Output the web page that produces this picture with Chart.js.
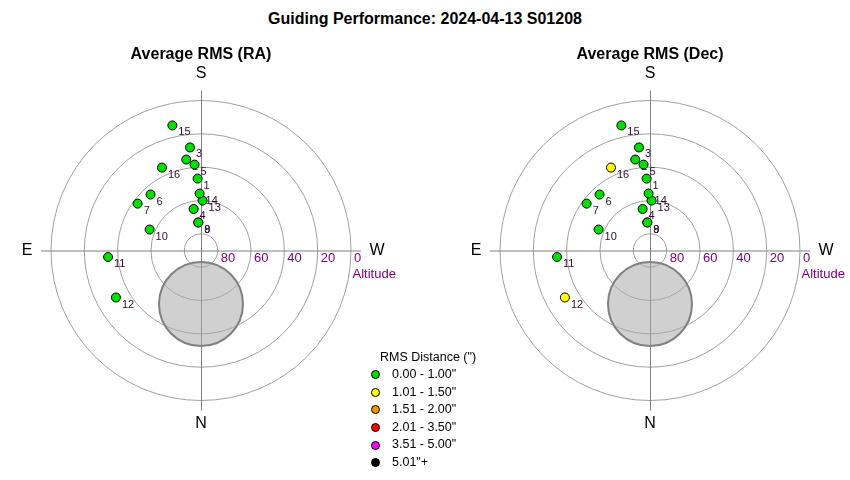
<!DOCTYPE html>
<html>
<head>
<meta charset="utf-8">
<script src="https://cdn.jsdelivr.net/npm/chart.js@4.4.1/dist/chart.umd.min.js"></script>
<style>
  html, body { margin: 0; padding: 0; background: #fff; }
  body { width: 850px; height: 480px; position: relative; overflow: hidden;
         font-family: Arial, "Liberation Sans", sans-serif; }
  canvas { position: absolute; top: 0; }
  #title { position: absolute; left: 0; top: 9px; width: 850px; text-align: center;
           font-weight: bold; font-size: 16px; line-height: 20px; color: #000; }
  #legend { position: absolute; left: 371px; top: 348px; font-size: 12.5px; color: #000; z-index: 2; }
  #legend .head { line-height: 18px; padding-left: 9px; }
  #legend .item { line-height: 17.6px; height: 17.6px; position: relative; padding-left: 21px; }
  #legend .dot { position: absolute; left: 0; top: 4.3px; width: 7px; height: 7px;
                 border: 1px solid #000; border-radius: 50%; }
</style>
</head>
<body>
<div id="title">Guiding Performance: 2024-04-13 S01208</div>
<canvas id="ra" width="425" height="480" style="left:0"></canvas>
<canvas id="dec" width="425" height="480" style="left:425px"></canvas>
<div id="legend"></div>
<script>
// sessions, position on the sky (degrees)
const sessions = [1, 2, 3, 4, 5, 6, 7, 8, 9, 10, 11, 12, 13, 14, 15, 16];
const azimuth = [177.3, 170.8, 173.9, 169.9, 175.7, 138.0, 126.5, 174.5, 174.5, 112.2, 86.0, 61.1, 181.8, 178.6, 167.1, 154.8];
const altitude = [46.8, 34.7, 27.8, 64.7, 38.3, 44.8, 42.7, 73.1, 73.1, 56.7, 34.1, 31.7, 60.0, 55.8, 13.0, 35.0];

// average RMS per session (arcsec)
const raRms = [0.62, 0.71, 0.58, 0.66, 0.69, 0.74, 0.81, 0.55, 0.57, 0.77, 0.88, 0.93, 0.63, 0.60, 0.84, 0.79];
const decRms = [0.71, 0.64, 0.83, 0.59, 0.76, 0.68, 0.87, 0.52, 0.61, 0.85, 0.92, 1.18, 0.66, 0.73, 0.95, 1.07];

// RMS bins
const binUpper = [1.00, 1.50, 2.00, 3.50, 5.00, Infinity];
const binLabels = ['0.00 - 1.00"', '1.01 - 1.50"', '1.51 - 2.00"', '2.01 - 3.50"', '3.51 - 5.00"', '5.01"+'];
const binColors = ['#00e000', '#ffff00', '#ee9900', '#ff0000', '#ff00ff', '#000000'];

// altitude rings and the polar region
const ringAltitudes = [80, 60, 40, 20, 0];
const poleAz = 0;
const poleAlt = 57.9;
const poleRadius = 25.2;

const FONT = 'Arial, "Liberation Sans", sans-serif';
Chart.defaults.font.family = FONT;

const toXY = (az, alt) => {
  const zd = 90 - alt;
  const a = az * Math.PI / 180;
  return { x: -Math.sin(a) * zd, y: -Math.cos(a) * zd };
};

const binOf = (v) => binUpper.findIndex((u) => v <= u);

const polarGrid = {
  id: 'polarGrid',
  beforeDatasetsDraw(chart) {
    const { ctx, scales: { x, y } } = chart;
    const cx = x.getPixelForValue(0);
    const cy = y.getPixelForValue(0);
    const px = (v) => Math.abs(x.getPixelForValue(v) - cx);
    ctx.save();

    // rings
    ctx.strokeStyle = '#a0a0a0';
    ctx.lineWidth = 1;
    ringAltitudes.forEach((alt) => {
      ctx.beginPath();
      ctx.arc(cx, cy, px(90 - alt), 0, Math.PI * 2);
      ctx.stroke();
    });

    // cross axes
    const reach = px(96);
    ctx.strokeStyle = '#808080';
    ctx.beginPath();
    ctx.moveTo(cx - reach, cy + 0.5);
    ctx.lineTo(cx + reach, cy + 0.5);
    ctx.moveTo(cx + 0.5, cy - reach);
    ctx.lineTo(cx + 0.5, cy + reach);
    ctx.stroke();

    // ring labels
    ctx.fillStyle = '#800080';
    ctx.font = '13px ' + FONT;
    ctx.textAlign = 'left';
    ctx.textBaseline = 'middle';
    ringAltitudes.forEach((alt) => {
      ctx.fillText(String(alt), cx + px(90 - alt) + 3, cy + 8);
    });
    ctx.fillText('Altitude', cx + 151.5, cy + 24);

    // compass
    ctx.fillStyle = '#000';
    ctx.font = '16px ' + FONT;
    ctx.textAlign = 'center';
    ctx.fillText('S', cx, cy - 176.5);
    ctx.fillText('N', cx, cy + 173);
    ctx.fillText('E', cx - 174, cy);
    ctx.fillText('W', cx + 176, cy);

    // session numbers
    ctx.fillStyle = '#2e0d2e';
    ctx.font = '11px ' + FONT;
    ctx.textAlign = 'left';
    sessions.forEach((n, i) => {
      const p = toXY(azimuth[i], altitude[i]);
      ctx.fillText(String(n), x.getPixelForValue(p.x) + 6, y.getPixelForValue(p.y) + 7);
    });
    ctx.restore();
  },
};

const makePanel = (id, title, rms, padLeft, padRight) => {
  const pole = toXY(poleAz, poleAlt);
  const datasets = binUpper.map((u, b) => ({
    label: binLabels[b],
    data: sessions
      .map((n, i) => ({ ...toXY(azimuth[i], altitude[i]), n, b: binOf(rms[i]) }))
      .filter((p) => p.b === b),
    backgroundColor: binColors[b],
    borderColor: '#000',
    borderWidth: 1,
    pointRadius: 4.5,
    clip: false,
    order: 1,
  }));
  datasets.push({
    label: 'pole',
    data: [pole],
    backgroundColor: 'rgba(170,170,170,0.55)',
    borderColor: '#808080',
    borderWidth: 2,
    pointRadius: (c) => {
      const s = c.chart.scales.x;
      return Math.abs(s.getPixelForValue(poleRadius) - s.getPixelForValue(0));
    },
    clip: false,
    order: 5,
  });

  return new Chart(document.getElementById(id), {
    type: 'scatter',
    data: { datasets },
    options: {
      responsive: false,
      animation: false,
      events: [],
      layout: {
        autoPadding: false,
        padding: { left: padLeft, right: padRight, top: 0, bottom: 46.17 },
      },
      scales: {
        x: { type: 'linear', min: -110, max: 110, display: false },
        y: { type: 'linear', min: -110, max: 110, display: false },
      },
      plugins: {
        legend: { display: false },
        tooltip: { enabled: false },
        title: {
          display: true,
          text: title,
          color: '#000',
          font: { size: 16, weight: 'bold' },
          padding: { top: 45.4, bottom: 2.6 },
        },
      },
    },
    plugins: [polarGrid],
  });
};

makePanel('ra', 'Average RMS (RA)', raRms, 17.67, 40.67);
makePanel('dec', 'Average RMS (Dec)', decRms, 41.67, 16.67);

// shared legend
const legend = document.getElementById('legend');
legend.innerHTML = '<div class="head">RMS Distance (")</div>' +
  binLabels.map((t, b) =>
    '<div class="item"><span class="dot" style="background:' + binColors[b] + '"></span>' + t + '</div>'
  ).join('');
</script>
</body>
</html>
